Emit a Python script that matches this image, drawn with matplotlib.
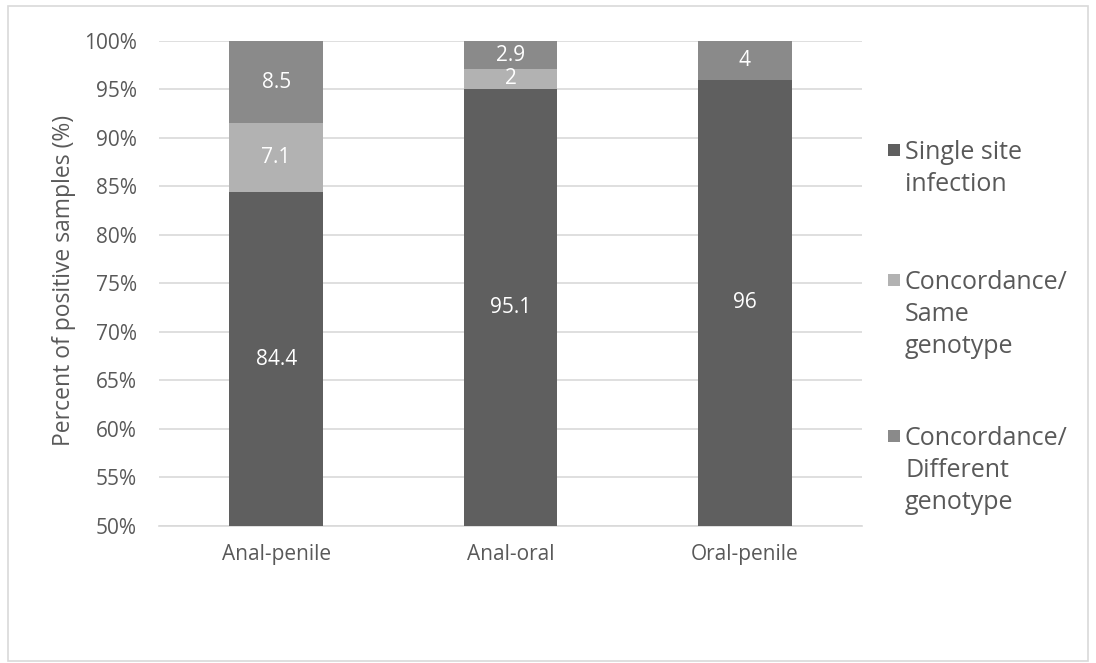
import matplotlib
matplotlib.use("Agg")
import matplotlib.pyplot as plt
from matplotlib.patches import Rectangle
from matplotlib.ticker import FuncFormatter, MultipleLocator

categories = ["Anal-penile", "Anal-oral", "Oral-penile"]
single_site = [84.4, 95.1, 96]
same_genotype = [7.1, 2, 0]
different_genotype = [8.5, 2.9, 4]
series_names = ["Single site\ninfection", "Concordance/\nSame\ngenotype", "Concordance/\nDifferent\ngenotype"]
colors = ["#5f5f5f", "#b2b2b2", "#8a8a8a"]

plt.rcParams['font.family'] = ['Open Sans', 'DejaVu Sans']
text_color = "#595959"

fig = plt.figure(figsize=(10.96, 6.63), dpi=100)
W, H = 1096, 663
ax = fig.add_axes([159 / W, 1 - 526 / H, (862 - 159) / W, (526 - 41) / H])
ymin, ymax = 50, 100

# chart border
fig.patches.append(Rectangle((8 / W, 2 / H), 1080 / W, 655 / H, transform=fig.transFigure,
                             fill=False, edgecolor="#d9d9d9", linewidth=1.2))

x = list(range(len(categories)))
bottom = [0.0] * len(categories)
series = [single_site, same_genotype, different_genotype]
for vals, col, name in zip(series, colors, series_names):
    ax.bar(x, vals, bottom=bottom, width=0.4, color=col, label=name, zorder=3)
    for xi, v, b in zip(x, vals, bottom):
        if v > 0 and b + v > ymin:
            lo = max(b, ymin)
            ax.text(xi, (lo + b + v) / 2, f"{v:g}", ha="center", va="center", color="white",
                    fontsize=15, zorder=4)
    bottom = [b + v for b, v in zip(bottom, vals)]

ax.set_ylim(ymin, ymax)
ax.set_xlim(-0.5, 2.5)
ax.yaxis.set_major_locator(MultipleLocator(5))
ax.yaxis.set_major_formatter(FuncFormatter(lambda v, p: f"{v:.0f}%"))
ax.grid(axis="y", color="#d9d9d9", linewidth=1.2, zorder=0)
for s in ["top", "right", "left"]:
    ax.spines[s].set_visible(False)
ax.spines["bottom"].set_color("#d9d9d9")
ax.spines["bottom"].set_linewidth(1.2)
ax.tick_params(axis="both", length=0, colors=text_color, labelsize=15)
ax.tick_params(axis="y", pad=16)
ax.tick_params(axis="x", pad=13)
ax.set_xticks(x)
ax.set_xticklabels(categories)
fig.text(64 / W, 1 - 280 / H, "Percent of positive samples (%)", rotation=90,
         ha="center", va="center", color=text_color, fontsize=16.5)

# legend (markers aligned with first line of each label)
first_line_y = [150, 280, 436]
for name, col, yc in zip(series_names, colors, first_line_y):
    fig.patches.append(Rectangle((888 / W, 1 - (yc + 6) / H), 12 / W, 12 / H,
                                 transform=fig.transFigure, facecolor=col, edgecolor="none"))
    fig.text(905 / W, 1 - (yc - 10) / H, name, ha="left", va="top", color=text_color,
             fontsize=18, linespacing=1.36)

fig.savefig("out.png", dpi=100)
